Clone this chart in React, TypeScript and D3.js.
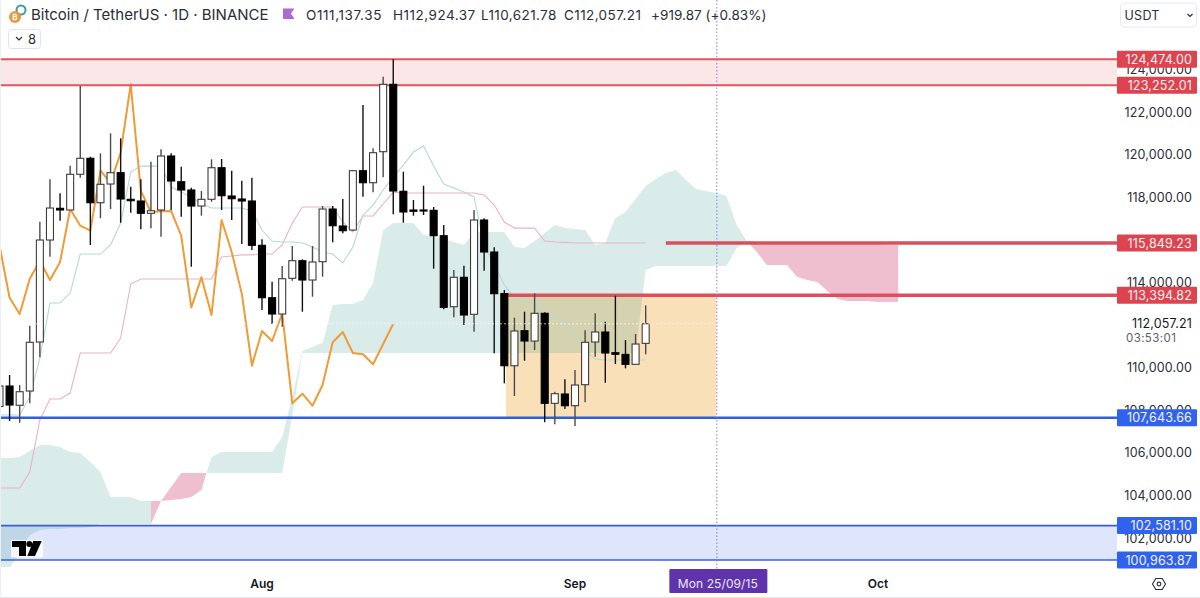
import { useEffect, useRef } from 'react';
import * as d3 from 'd3';

// candles run one per day from 2025-07-06 to 2025-09-13
const firstDay = Date.UTC(2025, 6, 6);
const opens = [108173, 109135, 108230, 108900, 111201, 115990, 117478, 117399, 119074, 119826, 117741, 118619, 119150, 117901, 117821, 117244, 117399, 119934, 118727, 118338, 117586, 117901, 119384, 118056, 117915, 117821, 115741, 113281, 112516, 114192, 115018, 114112, 114971, 117445, 116647, 116460, 119244, 118680, 120136, 123300, 118277, 117399, 117399, 117384, 116192, 112858, 114239, 112502, 116929, 115427, 113478, 110088, 111732, 111248, 112549, 108323, 108760, 108211, 109197, 111201, 111671, 110699, 110624, 110154, 111137.35];
const highs = [109276, 109652, 109182, 111966, 116849, 118840, 118183, 119478, 123220, 119901, 120061, 120999, 120765, 118492, 118840, 119666, 120249, 120061, 119431, 118446, 118291, 119779, 119793, 119244, 118774, 118915, 116023, 114032, 114769, 115708, 115084, 115708, 117586, 117586, 117915, 119276, 122328, 120295, 123657, 124474, 119197, 117868, 118539, 117539, 116694, 114581, 114783, 117399, 117009, 115647, 113643, 112342, 112624, 113487, 112596, 108868, 109450, 109886, 111750, 112549, 112154, 113375, 111295, 111577, 112924.37];
const lows = [108008, 107492, 107412, 108323, 110483, 115206, 116896, 117399, 118915, 115755, 117009, 117445, 116802, 117272, 116492, 116539, 116145, 117399, 117084, 114736, 117131, 117788, 117399, 116929, 115802, 115520, 112704, 112046, 111920, 114079, 112624, 113328, 114267, 115882, 116304, 116427, 118023, 118229, 118934, 117196, 116802, 117131, 117164, 114642, 112736, 112361, 111999, 111685, 114549, 110671, 109262, 108666, 110323, 110825, 107431, 107337, 108056, 107257, 108370, 110511, 109290, 110168, 109966, 110154, 110621.78];
const closes = [109135, 108243, 108868, 111187, 115990, 117492, 117399, 119074, 119826, 117741, 118605, 119150, 117915, 117835, 117244, 117366, 119934, 118760, 118338, 117586, 117901, 119384, 118070, 117929, 117821, 115741, 113281, 112516, 114173, 115018, 114112, 114957, 117445, 116661, 116427, 119244, 118680, 120089, 123300, 118291, 117305, 117338, 117352, 116192, 112830, 114239, 112469, 116929, 115427, 113469, 110088, 111717, 111248, 112549, 108323, 108774, 108211, 109182, 111187, 111671, 110685, 110624, 110154, 111107, 112057.21];

const tenkan = [107775, 107775, 107775, 108620, 110450, 113030, 113030, 113500, 115330, 115330, 115330, 115755, 116790, 119180, 119460, 119460, 119460, 118480, 118240, 118010, 117680, 117490, 117490, 117490, 117490, 117350, 116460, 115940, 115900, 115900, 115850, 115660, 115430, 115330, 114910, 115660, 117160, 117630, 118340, 118950, 119510, 120120, 120400, 119460, 118620, 118430, 118240, 118010, 115755, 114820, 113880, 113270, 113080, 113030, 112375, 112330, 112190, 111530, 110825, 110400, 110355, 110355, 110355, 110355, 110355];
const kijun = [104345, 104345, 104345, 105100, 107540, 108525, 108525, 108805, 110685, 110685, 110685, 110685, 111390, 113925, 114160, 114160, 114160, 114160, 114160, 114160, 114160, 114160, 115190, 115240, 115290, 115290, 115330, 115330, 115755, 116790, 117540, 117540, 117540, 117540, 116835, 116365, 117120, 117120, 117680, 118240, 118200, 118200, 118200, 118200, 118200, 118200, 118200, 118200, 118100, 117630, 116835, 116550, 116550, 116550, 115940, 115900, 115880, 115850, 115850, 115850, 115850, 115850, 115850, 115850, 115850];

// cloud, in days from 1 Aug; -5.5 is where the two spans cross
const kumoDays = [-26, -25, -24, -23, -22, -21, -20, -19, -18, -17, -16, -15, -14, -13, -12, -11, -10, -9, -8, -7, -6, -5.5, -5, -4, -3, -2, -1, 0, 1, 2, 3, 4, 5, 6, 7, 8, 9, 10, 11, 12, 13, 14, 15, 16, 17, 18, 19, 20, 21, 22, 23, 24, 25, 26, 27, 28, 29, 30, 31, 32, 33, 34, 35, 36, 37, 38, 39, 40, 41, 42, 43, 44, 45, 46, 47, 48, 49, 50, 51, 52, 53, 54, 55, 56, 57, 58, 59, 60, 61, 62, 63];
const kumoTop = [105755, 105755, 105800, 106085, 106365, 106365, 106270, 106035, 105990, 105565, 105100, 103925, 103925, 103925, 103735, 103735, 103735, 104395, 105050, 105050, 105050, 105050, 105800, 106035, 106035, 106035, 106035, 106035, 106035, 106740, 108620, 110780, 110965, 111155, 112940, 112985, 112985, 113175, 113970, 116460, 116790, 116790, 116790, 116225, 116130, 116040, 115900, 115755, 116365, 116365, 116365, 116365, 115660, 115615, 115940, 116320, 116695, 116550, 116505, 116460, 115755, 115850, 117025, 117305, 117915, 118525, 118855, 119135, 119275, 118805, 118385, 118290, 118200, 118055, 116695, 115950, 115900, 115900, 115900, 115900, 115900, 115900, 115850, 115850, 115850, 115850, 115800, 115800, 115800, 115755, 115755];
const kumoBottom = [100590, 100590, 101340, 102140, 102375, 102420, 102420, 102470, 102470, 102515, 102655, 102655, 102655, 102655, 102655, 102655, 103735, 103785, 103830, 103925, 104250, 105050, 105050, 105050, 105050, 105050, 105050, 105050, 105050, 105050, 107775, 110685, 110685, 110685, 110685, 110685, 110685, 110685, 110685, 110685, 110685, 110685, 110685, 110685, 110685, 110685, 110685, 110685, 110685, 110685, 110685, 110685, 110685, 110685, 110685, 110685, 110685, 110685, 110685, 110685, 110685, 110685, 110685, 110685, 110685, 114580, 114770, 114770, 114770, 114770, 114770, 114770, 114770, 114770, 115615, 115950, 115430, 114820, 114820, 114820, 114250, 114110, 114020, 113595, 113220, 113125, 113125, 113125, 113080, 113080, 113080];
const kumoPinkRanges = [[-11, -5.5], [48, 63]];

const redZone = [124474.0, 123252.01];
const blueZone = [102581.1, 100963.87];
const resistance = [115849.23, 113394.82];
const support = 107643.66;
const priceTicks = [124000, 122000, 120000, 118000, 114000, 110000, 108000, 106000, 104000, 102000];
const monthLabels = [['Aug', Date.UTC(2025, 7, 1)], ['Sep', Date.UTC(2025, 8, 1)], ['Oct', Date.UTC(2025, 9, 1)]] as [string, number][];
const cursorDate = Date.UTC(2025, 8, 15);
const boxStart = Date.UTC(2025, 7, 25, 4);
const line1Start = Date.UTC(2025, 8, 10);
const chikouShift = 25;

const DAY = 86400000;
const FONT = 'Inter, "Noto Sans", sans-serif';
const fmt = d3.format(',.2f');

export default function App() {
  const svgRef = useRef<SVGSVGElement>(null);

  useEffect(() => {
    if (!svgRef.current) return;
    const W = 1200;
    const H = 598;
    const plotRight = 1117;
    const plotBottom = 567;

    const svg = d3.select(svgRef.current);
    svg.selectAll('*').remove();

    const x = d3.scaleUtc()
      .domain([Date.UTC(2025, 7, 1), Date.UTC(2025, 8, 1)])
      .range([262, 575]);
    const y = d3.scaleLinear().domain([122000, 102000]).range([112, 538]);
    const dayX = (d: number) => x(Date.UTC(2025, 7, 1) + d * DAY);
    const idxX = (i: number) => x(firstDay + i * DAY);

    svg.append('rect').attr('width', W).attr('height', H).attr('fill', '#fff');

    const defs = svg.append('defs');
    defs.append('clipPath').attr('id', 'plot').append('rect')
      .attr('x', 0).attr('y', 0).attr('width', plotRight).attr('height', plotBottom);
    const plot = svg.append('g').attr('clip-path', 'url(#plot)');

    // zones
    plot.append('rect').attr('x', 0).attr('width', plotRight)
      .attr('y', y(redZone[0])).attr('height', y(redZone[1]) - y(redZone[0]))
      .attr('fill', '#fbe6e8');
    plot.append('rect').attr('x', 0).attr('width', plotRight)
      .attr('y', y(blueZone[0])).attr('height', y(blueZone[1]) - y(blueZone[0]))
      .attr('fill', '#dfe5fb');

    // orange box
    plot.append('rect')
      .attr('x', x(boxStart)).attr('width', x(cursorDate) - x(boxStart))
      .attr('y', y(resistance[1])).attr('height', y(support) - y(resistance[1]))
      .attr('fill', '#fae0b9');

    // cloud
    const isPink = (d: number) => kumoPinkRanges.some(([a, b]) => d >= a && d <= b);
    const kumo = kumoDays.map((d, i) => ({ d, top: kumoTop[i], bottom: kumoBottom[i] }));
    const area = d3.area<{ d: number; top: number; bottom: number }>()
      .x((p) => dayX(p.d)).y0((p) => y(p.bottom)).y1((p) => y(p.top));
    plot.append('path')
      .attr('d', area.defined((p) => !isPink(p.d) || kumoPinkRanges.some(([a, b]) => p.d === a || p.d === b))(kumo))
      .attr('fill', 'rgb(32,143,132)').attr('fill-opacity', 0.17);
    kumoPinkRanges.forEach(([a, b]) => {
      plot.append('path')
        .attr('d', area.defined(() => true)(kumo.filter((p) => p.d >= a && p.d <= b)))
        .attr('fill', 'rgb(202,42,95)').attr('fill-opacity', 0.3);
    });

    // thin ichimoku lines
    const lineOf = (vals: number[]) => d3.line<number>().x((_, i) => idxX(i)).y((v) => y(v))(vals);
    plot.append('path').attr('d', lineOf(kijun)).attr('fill', 'none')
      .attr('stroke', '#e9b4c2').attr('stroke-width', 1.1);
    plot.append('path').attr('d', lineOf(tenkan)).attr('fill', 'none')
      .attr('stroke', '#b5d9d3').attr('stroke-width', 1.1);

    // lagging span
    const chikou = closes.slice(chikouShift);
    plot.append('path').attr('d', lineOf(chikou)).attr('fill', 'none')
      .attr('stroke', '#ee9c38').attr('stroke-width', 2).attr('stroke-linejoin', 'round');

    // level lines
    const hline = (v: number, from: number, color: string, w: number) =>
      plot.append('line').attr('x1', from).attr('x2', plotRight)
        .attr('y1', y(v)).attr('y2', y(v)).attr('stroke', color).attr('stroke-width', w);
    hline(redZone[0], 0, '#e2545f', 2);
    hline(redZone[1], 0, '#e2545f', 2);
    hline(blueZone[0], 0, '#3560d8', 1.6);
    hline(blueZone[1], 0, '#3560e6', 1.6);
    hline(resistance[0], x(line1Start), '#d8505c', 3.5);
    hline(resistance[1], x(boxStart), '#df4f5b', 3.5);
    hline(support, 0, '#2f5fdc', 2.6);

    // candles
    const bodyW = 7;
    const candles = plot.append('g');
    opens.forEach((o, i) => {
      const c = closes[i];
      const up = c >= o;
      const cx = idxX(i);
      const top = y(Math.max(o, c));
      const bottom = y(Math.min(o, c));
      candles.append('line').attr('x1', cx).attr('x2', cx)
        .attr('y1', y(highs[i])).attr('y2', y(lows[i]))
        .attr('stroke', up ? '#4a4a4a' : '#111').attr('stroke-width', 1.4);
      candles.append('rect')
        .attr('x', cx - bodyW / 2).attr('width', bodyW)
        .attr('y', top).attr('height', Math.max(bottom - top, 1))
        .attr('fill', up ? '#fff' : '#000')
        .attr('stroke', up ? '#3c3c3c' : '#000').attr('stroke-width', 1.1);
    });

    // cursor and last price dashes
    plot.append('line').attr('x1', 0).attr('x2', plotRight)
      .attr('y1', y(closes[closes.length - 1])).attr('y2', y(closes[closes.length - 1]))
      .attr('stroke', '#fff').attr('stroke-opacity', 0.7).attr('stroke-dasharray', '2 2');
    svg.append('line').attr('x1', x(cursorDate) + 0.5).attr('x2', x(cursorDate) + 0.5)
      .attr('y1', 0).attr('y2', 569)
      .attr('stroke', '#8f7fd0').attr('stroke-width', 1).attr('stroke-dasharray', '1.5 2');

    // logo
    const logo = svg.append('g').attr('transform', 'translate(12,541)');
    logo.append('rect').attr('x', -1).attr('y', -1).attr('width', 32).attr('height', 17.5).attr('fill', '#fff').attr('opacity', 0.8);
    logo.append('path').attr('d', 'M0 0H14V15H7V6H0Z').attr('fill', '#000');
    logo.append('circle').attr('cx', 17.3).attr('cy', 3).attr('r', 3).attr('fill', '#000');
    logo.append('path').attr('d', 'M21.3 0H29.7L23 15H15.3Z').attr('fill', '#000');

    // price axis
    const axis = svg.append('g').attr('font-family', FONT).attr('font-size', 12.5);
    axis.selectAll('text.tick').data(priceTicks).join('text')
      .attr('class', 'tick')
      .attr('x', 1192).attr('y', (d) => y(d)).attr('dy', '0.36em')
      .attr('text-anchor', 'end').attr('fill', '#2a2e39').attr('letter-spacing', 0.15)
      .text((d) => fmt(d));

    const tag = (v: number, color: string) => {
      axis.append('rect').attr('x', 1117).attr('y', y(v) - 8.5).attr('width', 80).attr('height', 17)
        .attr('rx', 1).attr('fill', color);
      axis.append('text').attr('x', 1192).attr('y', y(v)).attr('dy', '0.36em')
        .attr('text-anchor', 'end').attr('fill', '#f7f3f3').attr('letter-spacing', 0.15).text(fmt(v));
    };
    tag(redZone[0], '#dd4450');
    tag(redZone[1], '#dd4450');
    tag(resistance[0], '#dd4450');
    tag(resistance[1], '#dd4450');
    tag(support, '#2f62ee');
    tag(blueZone[0], '#2f62ee');
    tag(blueZone[1], '#2f62ee');

    axis.append('text').attr('x', 1192).attr('y', y(closes[closes.length - 1]))
      .attr('dy', '0.36em').attr('text-anchor', 'end').attr('fill', '#131722').attr('letter-spacing', 0.15)
      .text(fmt(closes[closes.length - 1]));
    axis.append('text').attr('x', 1126).attr('y', 338).attr('dy', '0.36em')
      .attr('fill', '#5d606b').attr('font-size', 11.5).attr('letter-spacing', 0.4).text('03:53:01');

    // time axis
    const time = svg.append('g').attr('font-family', FONT);
    time.selectAll('text').data(monthLabels).join('text')
      .attr('x', (d) => x(d[1])).attr('y', 584).attr('dy', '0.36em')
      .attr('text-anchor', 'middle').attr('font-size', 12).attr('font-weight', 600).attr('fill', '#131722')
      .text((d) => d[0]);
    time.append('rect').attr('x', x(cursorDate) - 47).attr('y', 569).attr('width', 98).attr('height', 24)
      .attr('rx', 1).attr('fill', '#5f34aa');
    time.append('text').attr('x', x(cursorDate) + 1.5).attr('y', 583.5).attr('dy', '0.36em')
      .attr('text-anchor', 'middle').attr('font-size', 12).attr('fill', '#ece8f6').attr('letter-spacing', 0.1)
      .text('Mon 25/09/15');

    // settings icon
    const gear = svg.append('g').attr('transform', 'translate(1159,584)').attr('fill', 'none').attr('stroke', '#2a2e39').attr('stroke-width', 1.1);
    gear.append('path').attr('d', 'M-6.5 0L-3.2 -5.5H3.2L6.5 0L3.2 5.5H-3.2Z');
    gear.append('circle').attr('r', 1.9);

    // header
    const head = svg.append('g').attr('font-family', FONT);
    head.append('circle').attr('cx', 21).attr('cy', 10).attr('r', 4.5).attr('fill', 'none').attr('stroke', '#3f9c9c').attr('stroke-width', 2);
    head.append('circle').attr('cx', 15).attr('cy', 17).attr('r', 6).attr('fill', '#e9993f');
    head.append('text').attr('x', 15).attr('y', 20).attr('text-anchor', 'middle').attr('font-size', 8).attr('fill', '#fff').attr('font-weight', 700).text('₿');
    head.append('text').attr('x', 31).attr('y', 20).attr('font-size', 15).attr('fill', '#2a2e39').text('Bitcoin / TetherUS · 1D · BINANCE');
    head.append('path').attr('d', 'M283 8.5H294.5L291 13.5L294.5 19H283Z').attr('fill', '#ab6bd0');

    const last = opens.length - 1;
    const ohlc: [string, number, number][] = [
      [`O${fmt(opens[last])}`, 306, 0.6],
      [`H${fmt(highs[last])}`, 393, 0.5],
      [`L${fmt(lows[last])}`, 481, 0.4],
      [`C${fmt(closes[last])}`, 564, 0.4],
      ['+919.87 (+0.83%)', 651, 0.05],
    ];
    head.selectAll('text.ohlc').data(ohlc).join('text')
      .attr('class', 'ohlc')
      .attr('x', (d) => d[1]).attr('y', 19.5)
      .attr('font-size', 13.5).attr('fill', '#2a2e39').attr('letter-spacing', (d) => d[2])
      .text((d) => d[0]);

    head.append('rect').attr('x', 8.5).attr('y', 29.5).attr('width', 32).attr('height', 19).attr('rx', 3)
      .attr('fill', '#fff').attr('stroke', '#e0e3eb');
    head.append('path').attr('d', 'M16 37L19 40L22 37').attr('fill', 'none').attr('stroke', '#2a2e39').attr('stroke-width', 1.2);
    head.append('text').attr('x', 28).attr('y', 44).attr('font-size', 13).attr('fill', '#2a2e39').text('8');

    head.append('rect').attr('x', 1120.5).attr('y', 3).attr('width', 76).attr('height', 24).attr('rx', 4)
      .attr('fill', '#fff').attr('stroke', '#e8eaef');
    head.append('text').attr('x', 1124.5).attr('y', 20).attr('font-size', 12.5).attr('fill', '#2a2e39').attr('letter-spacing', 0.3).text('USDT');
    head.append('path').attr('d', 'M1187.5 14L1190 16.5L1192.5 14').attr('fill', 'none').attr('stroke', '#2a2e39').attr('stroke-width', 1.2);

    // page edges
    svg.append('line').attr('x1', 0).attr('x2', W).attr('y1', 597.5).attr('y2', 597.5).attr('stroke', '#e6e7ea');
    svg.append('line').attr('x1', 0.5).attr('x2', 0.5).attr('y1', 0).attr('y2', H).attr('stroke', '#eceef1');
  }, []);

  return <svg ref={svgRef} width={1200} height={598} style={{ position: 'fixed', left: 0, top: 0 }} />;
}
